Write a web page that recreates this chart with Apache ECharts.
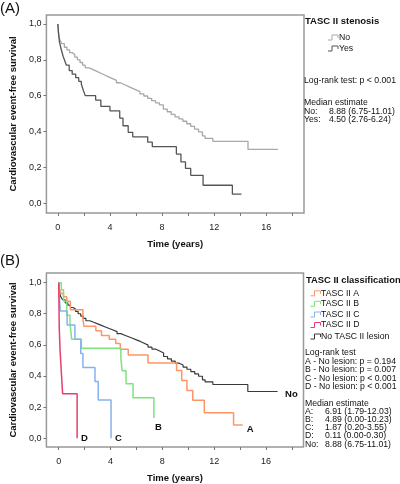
<!DOCTYPE html>
<html>
<head>
<meta charset="utf-8">
<script src="https://cdn.jsdelivr.net/npm/echarts@6/dist/echarts.min.js"></script>
<style>html,body{margin:0;padding:0;background:#fff}#c{width:400px;height:484px}</style>
</head>
<body>
<div id="c"></div>
<script>
// ---------- data ----------
var yTickValues = [0, 0.2, 0.4, 0.6, 0.8, 1.0];
var xTickValues = [0, 2, 4, 6, 8, 10, 12, 14, 16, 18];
var xLabelValues = [0, 4, 8, 12, 16];

// No TASC II stenosis / No TASC II lesion
var noTimes = [0, 0.03, 0.08, 0.15, 0.3, 0.5, 0.7, 0.9, 1.1, 1.3, 1.5, 1.7, 1.9, 2.1, 2.4, 2.7, 3.0, 3.3, 3.6, 3.9, 4.2, 4.5, 4.8, 5.1, 5.4, 5.7, 6.0, 6.3, 6.6, 6.9, 7.2, 7.5, 7.8, 8.1, 8.4, 8.7, 9.0, 9.3, 9.6, 9.9, 10.2, 10.5, 10.8, 11.1, 11.3, 11.9, 14.6, 16.9];
var noSurv  = [1.0, 0.96, 0.93, 0.91, 0.89, 0.87, 0.855, 0.84, 0.83, 0.815, 0.80, 0.785, 0.77, 0.755, 0.745, 0.735, 0.725, 0.715, 0.705, 0.695, 0.685, 0.672, 0.662, 0.652, 0.642, 0.632, 0.622, 0.61, 0.598, 0.585, 0.572, 0.56, 0.548, 0.525, 0.51, 0.495, 0.482, 0.47, 0.457, 0.443, 0.428, 0.413, 0.398, 0.375, 0.362, 0.345, 0.30, 0.30];

// TASC II stenosis: Yes
var yesTimes = [0, 0.05, 0.12, 0.25, 0.4, 0.5, 0.65, 0.87, 1.1, 1.37, 1.6, 1.8, 1.95, 2.1, 2.9, 3.3, 4.0, 4.75, 5.0, 5.4, 5.75, 6.9, 7.25, 9.1, 9.45, 9.8, 10.2, 11.15, 13.4, 14.1];
var yesSurv  = [1.0, 0.95, 0.90, 0.86, 0.82, 0.80, 0.77, 0.74, 0.72, 0.70, 0.68, 0.665, 0.63, 0.60, 0.575, 0.54, 0.515, 0.475, 0.432, 0.395, 0.37, 0.34, 0.315, 0.274, 0.23, 0.194, 0.155, 0.10, 0.05, 0.05];

// TASC II A
var aTimes = [0, 0.05, 0.2, 0.37, 0.62, 0.9, 1.87, 1.95, 2.87, 3.3, 3.9, 4.4, 4.75, 5.37, 6.9, 9.1, 9.5, 9.9, 10.35, 11.24, 13.5, 14.2];
var aSurv  = [1.0, 0.96, 0.93, 0.91, 0.88, 0.826, 0.763, 0.72, 0.69, 0.66, 0.636, 0.608, 0.572, 0.534, 0.483, 0.435, 0.37, 0.307, 0.244, 0.163, 0.085, 0.085];
// TASC II B
var bTimes = [0, 0.2, 0.37, 0.62, 0.87, 1.0, 1.75, 4.8, 4.9, 5.2, 5.74, 7.35];
var bSurv  = [1.0, 0.955, 0.88, 0.79, 0.74, 0.636, 0.578, 0.51, 0.434, 0.35, 0.26, 0.13];
// TASC II C
var cTimes = [0, 0.05, 0.12, 0.65, 1.25, 1.7, 1.87, 2.8, 3.05, 4.04];
var cSurv  = [1.0, 0.909, 0.818, 0.727, 0.636, 0.545, 0.455, 0.364, 0.245, 0.0];
// TASC II D
var dTimes = [0, 0.02, 0.04, 0.1, 0.2, 0.3, 1.42];
var dSurv  = [1.0, 0.857, 0.714, 0.571, 0.429, 0.286, 0.0];

// ---------- helpers ----------
function zip(t, s) { return t.map(function (v, i) { return [v, s[i]]; }); }
var FF = '"Liberation Sans", Arial, sans-serif';
var TXT = '#111';

function yAxisCfg(gi, min, max) {
  return {
    gridIndex: gi, type: 'value', min: min, max: max,
    axisLine: { show: false, onZero: false },
    axisTick: { show: true, length: 3, customValues: yTickValues, lineStyle: { color: '#777' } },
    axisLabel: { customValues: yTickValues, fontSize: 9, color: '#222', margin: 5, fontFamily: FF,
      formatter: function (v) { return v.toFixed(1).replace('.', ','); } },
    splitLine: { show: false },
    name: 'Cardiovascular event-free survival', nameLocation: 'middle', nameGap: 23,
    nameTextStyle: { fontWeight: 'bold', fontSize: 9.5, color: TXT, fontFamily: FF }
  };
}
function xAxisCfg(gi, min, max) {
  return {
    gridIndex: gi, type: 'value', min: min, max: max,
    axisLine: { show: false, onZero: false },
    axisTick: { show: true, length: 3, customValues: xTickValues, lineStyle: { color: '#777' } },
    axisLabel: { customValues: xLabelValues, fontSize: 9, color: '#222', margin: 10, fontFamily: FF },
    splitLine: { show: false },
    name: 'Time (years)', nameLocation: 'middle', nameGap: 26,
    nameTextStyle: { fontWeight: 'bold', fontSize: 9.5, color: TXT, fontFamily: FF }
  };
}
function km(name, gi, t, s, color, w, lbl, off) {
  var o = {
    name: name, type: 'line', step: 'end', xAxisIndex: gi, yAxisIndex: gi,
    data: zip(t, s), symbol: 'none', silent: true,
    lineStyle: { color: color, width: w }, itemStyle: { color: color }
  };
  if (lbl) {
    o.endLabel = { show: true, formatter: lbl, distance: 4, offset: off,
      fontWeight: 'bold', fontSize: 9.5, color: TXT, fontFamily: FF };
  }
  return o;
}
function txt(x, y, s, font) {
  return { type: 'text', x: x, y: y, silent: true,
    style: { text: s, font: font || ('8.7px ' + FF), fill: TXT, textVerticalAlign: 'middle' } };
}
function icon(x, y, color) {
  return { type: 'polyline', x: x, y: y, silent: true,
    shape: { points: [[0, 2.5], [4, 2.5], [4, -2.5], [10, -2.5], [10, 0.5]] },
    style: { stroke: color, fill: null, lineWidth: 1 } };
}

var C_NO_A = '#a8a8a8', C_YES = '#555555';
var C_A = '#ff9566', C_B = '#7ee27e', C_C = '#86b2ee', C_D = '#e4406c', C_NO_B = '#3a3a3a';

var chart = echarts.init(document.getElementById('c'), null, { renderer: 'canvas' });
chart.setOption({
  animation: false,
  backgroundColor: '#fff',
  grid: [
    { left: 40, top: 15, width: 264, height: 198, show: true, borderColor: '#999', borderWidth: 1.5, backgroundColor: '#fff' },
    { left: 37.5, top: 273, width: 266, height: 176, show: true, borderColor: '#999', borderWidth: 1.5, backgroundColor: '#fff' }
  ],
  xAxis: [xAxisCfg(0, -0.88, 18.9), xAxisCfg(1, -0.95, 18.9)],
  yAxis: [yAxisCfg(0, -0.055, 1.05), yAxisCfg(1, -0.057, 1.062)],
  series: [
    km('No', 0, noTimes, noSurv, C_NO_A, 1.3),
    km('Yes', 0, yesTimes, yesSurv, C_YES, 1.3),
    km('No TASC II lesion', 1, noTimes, noSurv, C_NO_B, 1.2, 'No', [3.5, 3]),
    km('TASC II A', 1, aTimes, aSurv, C_A, 1.5, 'A', [0, 4]),
    km('TASC II B', 1, bTimes, bSurv, C_B, 1.5, 'B', [-3, 9]),
    km('TASC II C', 1, cTimes, cSurv, C_C, 1.5, 'C', [0, 0]),
    km('TASC II D', 1, dTimes, dSurv, C_D, 1.5, 'D', [0, 0])
  ],
  graphic: [
    txt(0, 9, '(A)', '15px ' + FF),
    txt(305, 21.5, 'TASC II stenosis', 'bold 9.5px ' + FF),
    icon(328, 37.5, C_NO_A), txt(339, 37.5, 'No'),
    icon(328, 48.5, C_YES), txt(339, 48.5, 'Yes'),
    txt(304, 80.5, 'Log-rank test: p < 0.001'),
    txt(304, 103, 'Median estimate'),
    txt(304, 111.2, 'No:'), txt(329, 111.2, '8.88 (6.75-11.01)'),
    txt(304, 119.4, 'Yes:'), txt(329, 119.4, '4.50 (2.76-6.24)'),

    txt(0, 261, '(B)', '15px ' + FF),
    txt(306, 280, 'TASC II classification', 'bold 9.4px ' + FF),
    icon(310.5, 293.3, C_A), txt(321, 293.3, 'TASC II A'),
    icon(310.5, 303.8, C_B), txt(321, 303.8, 'TASC II B'),
    icon(310.5, 314.5, C_C), txt(321, 314.5, 'TASC II C'),
    icon(310.5, 325, C_D), txt(321, 325, 'TASC II D'),
    icon(310.5, 336.5, C_NO_B), txt(321, 336.5, 'No TASC II lesion'),
    txt(305, 353, 'Log-rank test'),
    txt(305, 361.5, 'A - No lesion: p = 0.194'),
    txt(305, 369.9, 'B - No lesion: p = 0.007'),
    txt(305, 378.3, 'C - No lesion: p < 0.001'),
    txt(305, 386.7, 'D - No lesion: p < 0.001'),
    txt(305, 403.3, 'Median estimate'),
    txt(305, 411.5, 'A:'), txt(325, 411.5, '6.91 (1.79-12.03)'),
    txt(305, 419.7, 'B:'), txt(325, 419.7, '4.89 (0.00-10.23)'),
    txt(305, 427.9, 'C:'), txt(325, 427.9, '1.87 (0.20-3.55)'),
    txt(305, 436.1, 'D:'), txt(325, 436.1, '0.11 (0.00-0.30)'),
    txt(305, 444.3, 'No:'), txt(325, 444.3, '8.88 (6.75-11.01)')
  ]
});
</script>
</body>
</html>
